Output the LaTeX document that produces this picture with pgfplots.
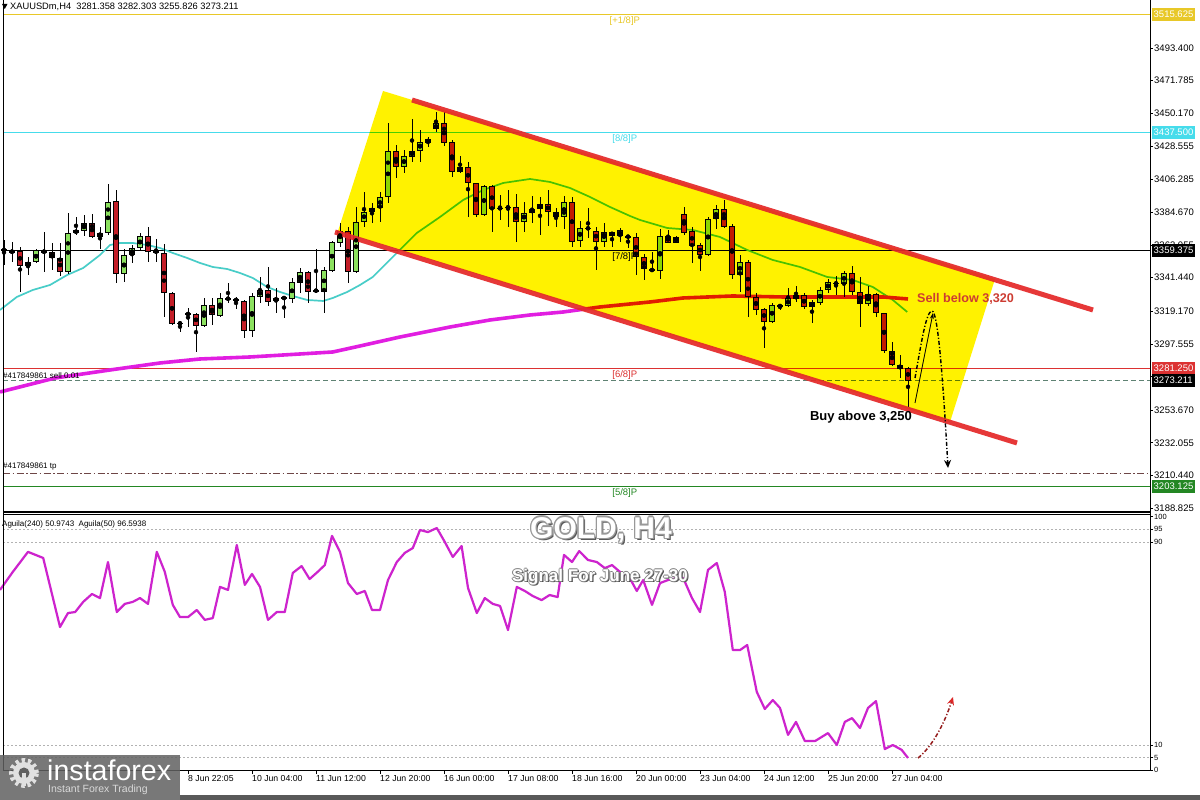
\documentclass[border=0pt]{standalone}
\usepackage{fontspec}
\setmainfont{Liberation Sans}
\usepackage{pgfplots}
\usepackage{pgfplotstable}
\pgfplotsset{compat=1.18}
\usetikzlibrary{arrows.meta}

\definecolor{bull}{RGB}{140,225,95}
\definecolor{bear}{RGB}{195,30,40}
\definecolor{ma21}{RGB}{72,205,200}
\definecolor{ma240}{RGB}{225,30,225}
\definecolor{chan}{RGB}{228,40,40}
\definecolor{lvgold}{RGB}{232,200,40}
\definecolor{lvcyan}{RGB}{70,220,235}
\definecolor{lvred}{RGB}{220,50,50}
\definecolor{lvgreen}{RGB}{35,135,35}
\definecolor{indic}{RGB}{205,35,205}
\definecolor{sellc}{RGB}{95,130,115}
\definecolor{tpc}{RGB}{110,70,70}
\definecolor{selltxt}{RGB}{205,60,50}
\definecolor{arrdark}{RGB}{150,30,30}
\definecolor{arrred}{RGB}{220,40,40}

% H4 candles, index 0 = first bar on the left
\pgfplotstableread{
x o h l c
0 3359.67 3366.29 3349.74 3359.67
1 3358.57 3365.19 3351.95 3358.57
3 3349.30 3354.82 3343.12 3351.51
4 3351.51 3360.55 3350.84 3359.45
5 3358.57 3371.81 3345.33 3358.57
8 3345.33 3384.39 3343.78 3370.71
9 3370.71 3381.74 3369.60 3372.91
10 3372.47 3382.85 3368.94 3377.33
12 3368.50 3374.68 3360.11 3371.15
13 3370.71 3403.37 3369.60 3391.23
15 3343.56 3360.55 3338.48 3356.14
16 3356.36 3362.98 3350.84 3360.78
17 3360.78 3370.71 3359.67 3368.94
19 3358.57 3366.73 3351.95 3358.57
22 3311.12 3312.22 3305.60 3311.12
23 3317.30 3321.05 3308.91 3317.30
25 3309.35 3328.11 3308.47 3323.26
27 3316.20 3331.42 3315.53 3328.11
28 3327.45 3337.60 3324.80 3327.45
29 3326.57 3328.78 3320.39 3326.57
31 3306.27 3331.42 3302.29 3329.22
32 3328.78 3341.58 3324.80 3333.19
34 3325.91 3334.29 3318.18 3328.11
35 3327.89 3328.78 3314.43 3327.89
36 3327.01 3340.91 3324.36 3338.27
37 3338.05 3347.53 3331.42 3345.33
39 3332.75 3360.11 3331.42 3332.75
40 3332.08 3348.20 3318.18 3346.43
41 3345.99 3365.85 3345.33 3365.19
42 3364.53 3377.33 3361.44 3372.25
44 3345.33 3387.92 3344.22 3378.43
45 3378.43 3398.30 3375.12 3385.05
46 3385.05 3390.57 3377.33 3387.26
47 3387.26 3398.30 3378.43 3394.99
48 3394.99 3443.98 3391.01 3425.22
50 3414.41 3425.88 3410.88 3421.91
51 3421.47 3446.19 3418.16 3425.22
52 3425.22 3439.13 3418.16 3431.40
53 3430.74 3434.71 3427.65 3432.95
54 3439.57 3451.26 3438.02 3443.54
57 3411.54 3421.91 3410.44 3414.41
60 3382.84 3402.71 3382.19 3402.05
62 3387.26 3396.09 3379.54 3387.26
63 3387.92 3399.40 3374.68 3387.92
65 3378.43 3391.68 3371.81 3384.39
66 3384.39 3395.43 3377.33 3386.60
67 3386.60 3394.99 3369.61 3390.13
70 3381.30 3395.43 3373.36 3391.68
72 3365.86 3379.10 3361.44 3374.02
73 3374.02 3387.26 3367.40 3374.02
75 3365.19 3377.77 3361.88 3371.81
77 3368.94 3374.02 3365.19 3372.92
78 3368.50 3369.61 3360.78 3368.50
81 3346.43 3358.57 3345.33 3346.43
82 3345.99 3373.36 3340.25 3368.94
84 3364.53 3368.94 3364.09 3368.06
88 3356.36 3381.30 3355.70 3379.98
89 3379.98 3389.47 3373.36 3386.60
92 3343.12 3356.36 3332.09 3351.95
96 3312.22 3324.80 3311.12 3323.26
97 3322.59 3323.92 3319.95 3322.59
98 3322.59 3334.29 3322.15 3327.67
99 3327.01 3335.84 3325.46 3329.88
101 3321.71 3326.57 3311.12 3325.02
102 3324.80 3334.96 3323.26 3333.19
103 3333.19 3340.25 3330.98 3338.71
104 3337.60 3342.46 3329.88 3337.60
105 3337.16 3345.99 3328.77 3344.67
108 3323.92 3335.84 3322.59 3330.54
}\bulltab

\pgfplotstableread{
x o h l c
2 3359.01 3361.44 3332.08 3349.30
6 3358.57 3364.53 3346.43 3354.15
7 3354.15 3364.09 3342.46 3345.33
11 3377.33 3383.51 3367.40 3368.50
14 3391.89 3399.40 3338.05 3343.78
18 3368.94 3374.68 3351.95 3358.57
20 3357.46 3363.65 3315.09 3331.42
21 3331.42 3332.08 3310.02 3310.68
24 3317.30 3318.18 3292.36 3309.57
26 3323.26 3327.67 3310.02 3316.64
30 3325.91 3326.57 3301.19 3306.27
33 3333.19 3348.64 3322.59 3325.47
38 3345.33 3345.99 3324.80 3332.08
43 3372.25 3374.68 3337.60 3345.33
49 3425.22 3429.19 3407.13 3414.41
55 3443.54 3451.26 3428.53 3430.74
56 3431.40 3432.51 3408.23 3411.54
58 3414.41 3418.16 3381.74 3403.81
59 3403.81 3404.26 3381.30 3382.84
61 3402.05 3402.71 3371.81 3386.60
64 3387.92 3396.75 3365.19 3378.43
68 3390.13 3399.40 3375.57 3385.05
69 3385.05 3387.26 3374.68 3381.30
71 3391.68 3394.99 3361.88 3365.19
74 3372.48 3375.12 3346.43 3365.19
76 3371.81 3371.81 3361.88 3368.94
79 3368.06 3371.15 3343.12 3354.82
80 3354.82 3357.02 3339.81 3346.87
83 3368.94 3372.92 3364.09 3364.53
85 3383.51 3387.92 3369.61 3371.15
86 3372.47 3375.12 3350.84 3362.32
87 3362.98 3364.09 3345.99 3356.36
90 3386.60 3392.78 3374.02 3375.12
91 3375.56 3376.89 3340.25 3343.12
93 3351.95 3353.05 3315.09 3328.77
94 3328.77 3331.42 3316.64 3319.95
95 3320.39 3321.05 3294.57 3312.22
100 3329.88 3330.98 3320.39 3321.71
106 3344.67 3349.08 3329.88 3332.09
107 3332.09 3342.02 3308.91 3323.92
109 3330.54 3330.98 3315.09 3317.74
110 3317.74 3318.18 3291.70 3293.02
111 3293.02 3298.98 3282.87 3283.53
112 3283.53 3290.15 3274.71 3280.66
113 3281.358 3282.303 3255.826 3273.211
}\beartab

\begin{document}
\begin{tikzpicture}
\fill[white] (0,0) rectangle (1200pt,800pt);

% ---------------- price panel ----------------
\begin{axis}[
  at={(3pt,288pt)}, anchor=south west,
  scale only axis, width=1147pt, height=512pt,
  xmin=-0.125, xmax=143.25, ymin=3186.2, ymax=3525.2,
  axis line style={draw=none},
  xtick=\empty,
  ytick={3493.4,3471.785,3450.17,3428.555,3406.285,3384.67,3363.055,3341.44,3319.17,3297.555,3275.94,3253.67,3232.055,3210.44,3188.825},
  yticklabels={3493.400,3471.785,3450.170,3428.555,3406.285,3384.670,3363.055,3341.440,3319.170,3297.555,3275.940,3253.670,3232.055,3210.440,3188.825},
  ytick pos=right, yticklabel pos=right, ytick align=outside,
  major tick length=3pt, tick style={black, line width=0.6pt},
  yticklabel style={font=\fontsize{9.5}{10}\selectfont, inner sep=1pt},
  clip=false,
]
% Murrey levels and order lines
\addplot[lvgold, line width=0.8pt] coordinates {(-0.125,3515.625) (143.25,3515.625)};
\addplot[lvcyan, line width=0.8pt] coordinates {(-0.125,3437.5) (143.25,3437.5)};
\addplot[black, line width=0.8pt] coordinates {(-0.125,3359.375) (143.25,3359.375)};
\addplot[lvred, line width=0.8pt] coordinates {(-0.125,3281.25) (143.25,3281.25)};
\addplot[lvgreen, line width=0.8pt] coordinates {(-0.125,3203.125) (143.25,3203.125)};
\addplot[sellc, line width=0.9pt, dash pattern=on 5pt off 3pt] coordinates {(-0.125,3273.211) (143.25,3273.211)};
\addplot[tpc, line width=0.9pt, dash pattern=on 7pt off 2.5pt on 1.5pt off 2.5pt] coordinates {(-0.125,3212) (143.25,3212)};

% moving averages
\addplot[ma21, line width=1.7pt] coordinates {
(-0.5,3319.95) (1.6,3328.56) (3.6,3333.19) (5.75,3336.50) (7.9,3343.13) (9.9,3347.76)
(12,3356.37) (13.25,3362.98) (14.5,3364.31) (16.1,3364.31) (17.9,3362.98) (19.5,3361.00)
(21.1,3357.69) (22.9,3354.38) (24.5,3351.07) (26.1,3348.42) (27.9,3347.09) (29.5,3344.45)
(31.1,3341.14) (32.9,3335.18) (34.5,3331.87) (36.1,3329.22) (37.9,3326.57) (39.9,3325.91)
(41.1,3327.90) (42.9,3331.87) (44.5,3336.50) (46.1,3341.80) (49.1,3357.69) (51.6,3370.93)
(54.5,3381.53) (57.4,3392.79) (59.9,3399.41) (62.4,3404.04) (65.75,3406.69) (68.25,3404.70)
(70.75,3400.73) (73.25,3394.77) (75.75,3388.15) (78.25,3382.19) (79.5,3379.54) (82.9,3374.24)
(86.1,3372.92) (89.5,3368.28) (92.9,3359.68) (96.1,3353.05) (99.5,3348.42) (102.9,3341.80)
(106.1,3339.81) (108.6,3335.18) (111.1,3326.57) (112.9,3318.63)};
\addplot[ma240, line width=3.6pt] coordinates {
(-0.5,3265.66) (6.4,3274.93) (13.25,3280.23) (19.5,3284.86) (24.5,3287.51) (30.75,3288.83)
(37,3290.82) (41.1,3292.14) (44.5,3296.11) (49.5,3302.07) (55.75,3308.69) (60.75,3313.33)
(65.75,3316.64) (69.9,3318.63) (74.5,3321.94) (80.75,3325.25) (84.9,3327.90) (91.1,3329.22)
(97.4,3328.56) (103.6,3328.56) (109.9,3328.56) (113,3327.24)};

% candles: wicks, body outline, body fill
\addplot[only marks, mark=none, error bars/.cd, y dir=both, y explicit, error mark=none,
  error bar style={draw=black, line width=1pt}]
  table[x=x, y expr={(\thisrow{h}+\thisrow{l})/2}, y error expr={(\thisrow{h}-\thisrow{l})/2}] {\bulltab};
\addplot[only marks, mark=none, error bars/.cd, y dir=both, y explicit, error mark=none,
  error bar style={draw=black, line width=1pt}]
  table[x=x, y expr={(\thisrow{h}+\thisrow{l})/2}, y error expr={(\thisrow{h}-\thisrow{l})/2}] {\beartab};
\addplot[only marks, mark=none, error bars/.cd, y dir=both, y explicit, error mark=none,
  error bar style={draw=black, line width=6pt}]
  table[x=x, y expr={(\thisrow{o}+\thisrow{c})/2}, y error expr={max(abs(\thisrow{c}-\thisrow{o})/2,0.4)}] {\bulltab};
\addplot[only marks, mark=none, error bars/.cd, y dir=both, y explicit, error mark=none,
  error bar style={draw=black, line width=6pt}]
  table[x=x, y expr={(\thisrow{o}+\thisrow{c})/2}, y error expr={max(abs(\thisrow{c}-\thisrow{o})/2,0.4)}] {\beartab};
\addplot[only marks, mark=none, error bars/.cd, y dir=both, y explicit, error mark=none,
  error bar style={draw=bull, line width=4pt}]
  table[x=x, y expr={(\thisrow{o}+\thisrow{c})/2}, y error expr={max(abs(\thisrow{c}-\thisrow{o})/2-0.66,0)}] {\bulltab};
\addplot[only marks, mark=none, error bars/.cd, y dir=both, y explicit, error mark=none,
  error bar style={draw=bear, line width=4pt}]
  table[x=x, y expr={(\thisrow{o}+\thisrow{c})/2}, y error expr={max(abs(\thisrow{c}-\thisrow{o})/2-0.66,0)}] {\beartab};

% yellow channel highlight (multiplied over the chart)
\fill[yellow, blend mode=multiply] (axis cs:47.375,3464.95) -- (axis cs:123.875,3340.47)
  -- (axis cs:118.25,3245.8) -- (axis cs:41.75,3372.25) -- cycle;

% channel lines
\addplot[chan, line width=5pt, opacity=0.92] coordinates {(51,3458.99) (136.125,3319.94)};
\addplot[chan, line width=5pt, opacity=0.92] coordinates {(41.375,3371.59) (126.625,3231.89)};

% level names
\node[text=lvgold, font=\fontsize{9.5}{10}\selectfont, yshift=-7pt] at (axis cs:77.6,3515.625) {[+1/8]P};
\node[text=lvcyan, font=\fontsize{9.5}{10}\selectfont, yshift=-7pt] at (axis cs:77.6,3437.5) {[8/8]P};
\node[text=black, font=\fontsize{9.5}{10}\selectfont, yshift=-7pt] at (axis cs:77.6,3359.375) {[7/8]P};
\node[text=lvred, font=\fontsize{9.5}{10}\selectfont, yshift=-7pt] at (axis cs:77.6,3281.25) {[6/8]P};
\node[text=lvgreen, font=\fontsize{9.5}{10}\selectfont, yshift=-7pt] at (axis cs:77.6,3203.125) {[5/8]P};

\coordinate (q1) at (axis cs:143.25,3515.625);
\coordinate (q2) at (axis cs:143.25,3437.5);
\coordinate (q3) at (axis cs:143.25,3359.375);
\coordinate (q4) at (axis cs:143.25,3281.25);
\coordinate (q5) at (axis cs:143.25,3273.211);
\coordinate (q6) at (axis cs:143.25,3203.125);
\end{axis}

% ---------------- indicator panel ----------------
\begin{axis}[
  at={(3pt,29pt)}, anchor=south west,
  scale only axis, width=1147pt, height=256pt,
  xmin=-0.125, xmax=143.25, ymin=-0.24, ymax=100.63,
  axis line style={draw=none},
  xtick={23,31,39,47,55,63,71,79,87,95,103,111},
  xticklabels={8 Jun 22:05,10 Jun 04:00,11 Jun 12:00,12 Jun 20:00,16 Jun 00:00,17 Jun 08:00,18 Jun 16:00,20 Jun 00:00,23 Jun 04:00,24 Jun 12:00,25 Jun 20:00,27 Jun 04:00},
  xtick pos=left, xtick align=outside,
  xticklabel style={anchor=north west, font=\fontsize{8.7}{9}\selectfont, inner sep=1pt, xshift=-1pt},
  ytick={0,5,10,90,95,100}, yticklabels={0,5,10,90,95,100},
  ytick pos=right, yticklabel pos=right, ytick align=outside,
  yticklabel style={font=\fontsize{7.5}{8}\selectfont, inner sep=1pt},
  major tick length=3pt, tick style={black, line width=0.6pt},
  clip=false,
]
\addplot[black!30, line width=0.7pt, dash pattern=on 2pt off 2pt] coordinates {(-0.125,95) (143.25,95)};
\addplot[black!30, line width=0.7pt, dash pattern=on 2pt off 2pt] coordinates {(-0.125,90) (143.25,90)};
\addplot[black!30, line width=0.7pt, dash pattern=on 2pt off 2pt] coordinates {(-0.125,10) (143.25,10)};
\addplot[black!30, line width=0.7pt, dash pattern=on 2pt off 2pt] coordinates {(-0.125,5) (143.25,5)};
\addplot[indic, line width=2.2pt, line join=round] coordinates {
(-0.5,71.1) (1.1,78.2) (3,86.1) (4.9,83.7) (7,56.5) (8,62.0) (8.9,62.4) (9.9,66.4) (11,69.5)
(12,67.9) (13,82.1) (14.1,62.4) (15.1,65.6) (16.1,66.4) (17,67.9) (18,65.6) (19.1,86.1)
(20.1,78.2) (21.1,65.2) (22,60.4) (23,60.4) (24.1,63.2) (25.1,59.3) (26.1,60.0) (27,72.3)
(28,71.1) (29.1,88.8) (30.1,73.1) (31,77.4) (32,72.3) (33,59.3) (34.1,62.4) (35.1,62.4)
(36.1,77.8) (37.2,80.5) (38.2,75.4) (39.2,78.2) (40.1,80.9) (41,92.4) (42,86.1) (43,73.8)
(44.1,69.5) (45.1,70.7) (46,63.2) (47,63.2) (48,75.0) (49.1,82.1) (50.1,85.7) (51.1,87.6)
(52,94.7) (53,93.9) (54.1,95.5) (55.1,90.0) (56.1,84.1) (57.2,88.4) (58,71.9) (59.1,62.0)
(60.1,67.9) (61.1,65.6) (62,64.8) (63,55.3) (64.1,72.3) (65.1,70.7) (66.1,68.7) (67.2,67.1)
(68.2,69.1) (69.2,68.3) (70,84.9) (71,82.1) (71.9,86.4) (73,82.9) (74.1,82.1) (75.1,79.7)
(76,80.9) (77,78.2) (78,77.0) (79.1,70.7) (79.9,75.0) (81,65.2) (82,73.8) (83,75.0)
(84.1,75.8) (84.9,75.8) (86,67.9) (87,62.4) (88,79.0) (89.1,81.7) (90.1,70.3) (91.1,47.4)
(92,47.4) (92.9,49.4) (94.1,30.9) (95.1,24.2) (96.1,27.7) (97,24.6) (98,14.0) (99,19.1)
(100.1,11.6) (101.4,11.6) (103,14.7) (104.1,10.0) (105.1,19.1) (106,20.6) (107,16.7)
(108,24.6) (109,27.3) (110.1,8.4) (111.1,10.0) (112.2,8.1) (113,4.9)};
\end{axis}

% ---------------- frame ----------------
\draw[black, line width=1pt] (3pt,800pt) -- (3pt,29pt);
\draw[black, line width=1pt] (1150pt,800pt) -- (1150pt,29pt);
\draw[black, line width=1.2pt] (3pt,288pt) -- (1150pt,288pt);
\draw[black, line width=1pt] (3pt,285pt) -- (1150pt,285pt);
\draw[black, line width=1pt] (3pt,29pt) -- (1150pt,29pt);

% right-axis price boxes
\tikzset{pbox/.style={anchor=west, text=white, inner xsep=2pt, inner ysep=0pt, minimum height=12.5pt,
  font=\fontsize{9.5}{10}\selectfont, xshift=1.5pt}}
\node[pbox, fill=lvgold] at (q1) {3515.625};
\node[pbox, fill=lvcyan] at (q2) {3437.500};
\node[pbox, fill=black] at (q3) {3359.375};
\node[pbox, fill=lvred] at (q4) {3281.250};
\node[pbox, fill=black] at (q5) {3273.211};
\node[pbox, fill=lvgreen] at (q6) {3203.125};

% header and order labels
\fill[black] (2pt,796pt) -- (7.5pt,796pt) -- (4.75pt,791pt) -- cycle;
\node[anchor=west, font=\fontsize{9.3}{10}\selectfont, inner sep=0pt] at (10pt,793pt) {XAUUSDm,H4\ \ 3281.358 3282.303 3255.826 3273.211};
\node[anchor=west, font=\fontsize{8}{9}\selectfont, inner sep=0pt] at (3pt,424pt) {\#417849861 sell 0.01};
\node[anchor=west, font=\fontsize{8}{9}\selectfont, inner sep=0pt] at (3pt,333pt) {\#417849861 tp};
\node[anchor=west, font=\fontsize{8}{9}\selectfont, inner sep=0pt] at (2pt,276pt) {Aguila(240) 50.9743\ \ Aguila(50) 96.5938};

% signal annotations
\node[anchor=west, text=selltxt, font=\bfseries\fontsize{12.6}{13}\selectfont, inner sep=0pt] at (917pt,501pt) {Sell below 3,320};
\node[text=black, font=\bfseries\fontsize{13}{14}\selectfont, inner sep=0pt] at (861pt,383pt) {Buy above 3,250};
\draw[black, line width=0.8pt, -{Stealth[length=6pt,width=4pt]}] (915pt,397pt) -- (933pt,487pt);
\draw[black, line width=1.4pt, dash pattern=on 4pt off 2pt on 1.2pt off 2pt, -{Stealth[length=8pt,width=7pt]}]
  (915pt,422pt) .. controls (921pt,455pt) and (926pt,489pt) .. (932pt,489pt)
  .. controls (938pt,489pt) and (943pt,420pt) .. (948pt,332pt);
\draw[arrdark, line width=1.5pt, dash pattern=on 4pt off 2pt on 1.2pt off 2pt,
  -{Stealth[length=8pt,width=7pt,color=arrred]}]
  (918pt,42pt) .. controls (933pt,54pt) and (945pt,78pt) .. (953pt,103pt);

% title overlays
\node[text=black!65, font=\bfseries\fontsize{30}{32}\selectfont] at (603pt,268pt) {GOLD, H4};
\foreach \dx/\dy in {1.3/0,-1.3/0,0/1.3,0/-1.3,0.9/0.9,-0.9/0.9,0.9/-0.9,-0.9/-0.9}
  \node[text=black!40, font=\bfseries\fontsize{30}{32}\selectfont] at ([xshift=\dx pt, yshift=\dy pt]601pt,270pt) {GOLD, H4};
\node[text=white, font=\bfseries\fontsize{30}{32}\selectfont] at (601pt,270pt) {GOLD, H4};
\node[text=black!70, font=\bfseries\fontsize{17}{18}\selectfont] at (601.5pt,221.5pt) {Signal For June 27-30};
\foreach \dx/\dy in {0.9/0,-0.9/0,0/0.9,0/-0.9}
  \node[text=black!50, font=\bfseries\fontsize{17}{18}\selectfont] at ([xshift=\dx pt, yshift=\dy pt]600pt,223pt) {Signal For June 27-30};
\node[text=white, font=\bfseries\fontsize{17}{18}\selectfont] at (600pt,223pt) {Signal For June 27-30};

% bottom border and logo
\fill[black!65] (180pt,0pt) rectangle (1200pt,5pt);
\fill[black!62, opacity=0.85] (0pt,0pt) rectangle (180pt,45pt);
\draw[white!88!black, line width=5pt, dash pattern=on 3.2pt off 3pt] (24pt,27pt) circle (12.5pt);
\fill[white!88!black] (24pt,27pt) circle (11pt);
\fill[black!62] (24pt,27pt) circle (5.5pt);
\fill[white!88!black] (22pt,14pt) rectangle (26pt,27pt);
\node[anchor=west, text=white, font=\fontsize{28.6}{29}\selectfont, inner sep=0pt] at (47pt,30pt) {instaforex};
\node[anchor=west, text=white!85!black, font=\fontsize{10.5}{11}\selectfont, inner sep=0pt] at (48pt,10.5pt) {Instant Forex Trading};

\pgfresetboundingbox
\path[use as bounding box] (0,0) rectangle (1200pt,800pt);
\end{tikzpicture}
\end{document}
